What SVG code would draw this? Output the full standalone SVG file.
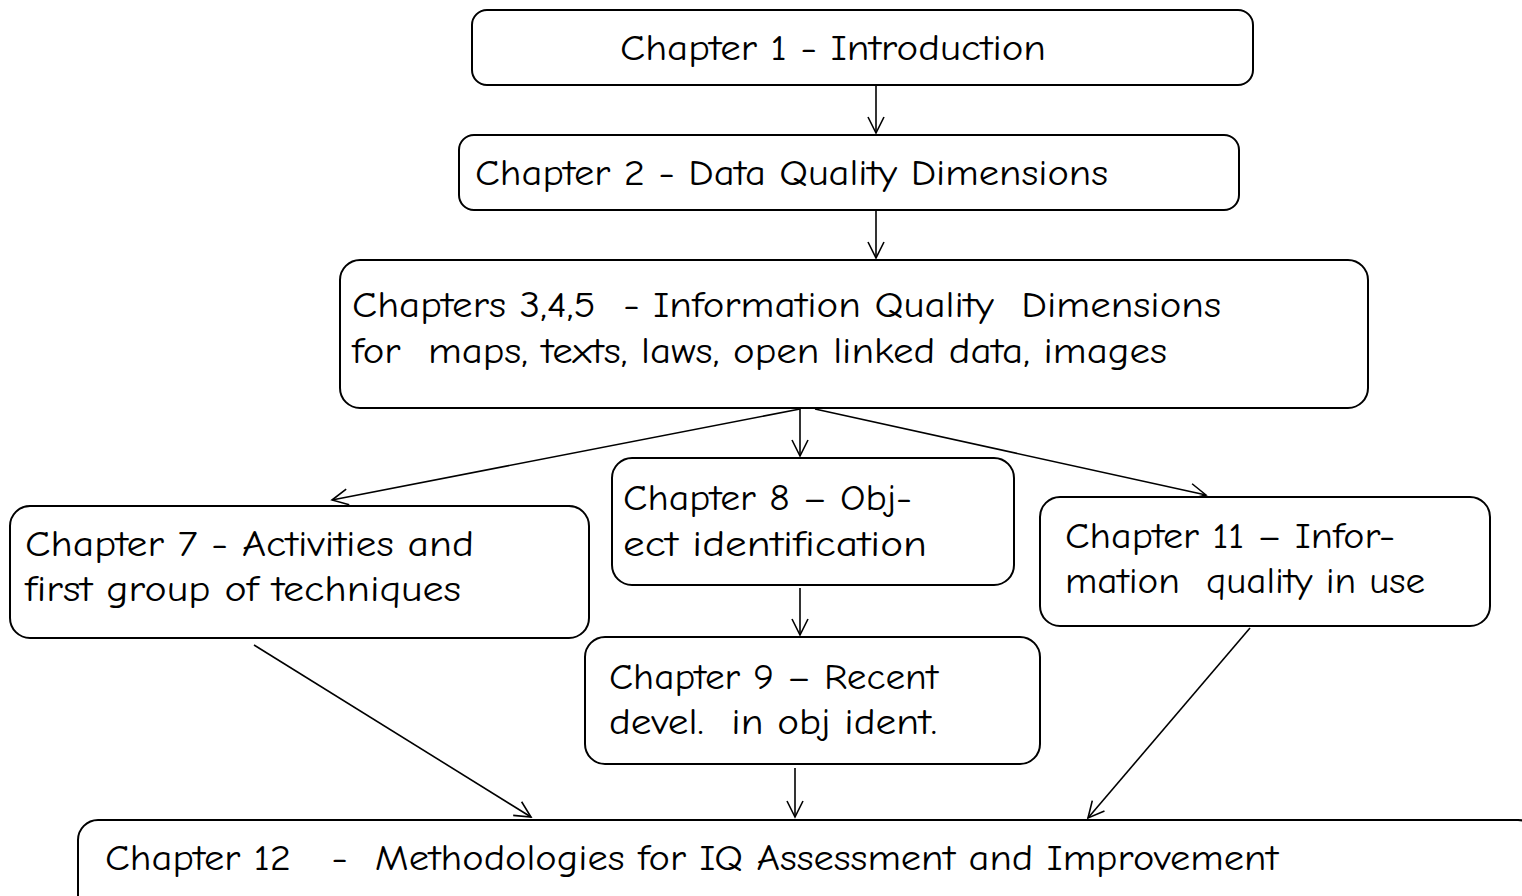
<svg xmlns="http://www.w3.org/2000/svg" width="1522" height="896" viewBox="0 0 1522 896">
<defs>
<style>
.box{fill:#fff;stroke:#000;stroke-width:2}
.t{font-family:"Comic Sans MS","Comic Neue","Liberation Sans","DejaVu Sans",sans-serif;font-size:37px;fill:#000}
.c{stroke:#000;stroke-width:1.6;fill:none}
</style>
<marker id="a" viewBox="0 0 20 20" refX="18" refY="10" markerWidth="20" markerHeight="20" markerUnits="userSpaceOnUse" orient="auto">
<path d="M2,2 L18,10 L2,18" fill="none" stroke="#000" stroke-width="1.6"/>
</marker>
</defs>
<rect width="1522" height="896" fill="#fff"/>
<g id="connectors">
<line class="c" x1="876" y1="86" x2="876" y2="133" marker-end="url(#a)"/>
<line class="c" x1="876" y1="211" x2="876" y2="258" marker-end="url(#a)"/>
<line class="c" x1="800" y1="409" x2="332" y2="500" marker-end="url(#a)"/>
<line class="c" x1="800" y1="409" x2="800" y2="456" marker-end="url(#a)"/>
<line class="c" x1="815" y1="409" x2="1206" y2="495" marker-end="url(#a)"/>
<line class="c" x1="800" y1="588" x2="800" y2="635" marker-end="url(#a)"/>
<line class="c" x1="795" y1="768" x2="795" y2="817" marker-end="url(#a)"/>
<line class="c" x1="254" y1="645" x2="531" y2="817" marker-end="url(#a)"/>
<line class="c" x1="1250" y1="628" x2="1088" y2="818" marker-end="url(#a)"/>
</g>
<g id="ch1">
<rect class="box" x="472" y="10" width="781" height="75" rx="15"/>
<text class="t" x="620" y="60" textLength="426" lengthAdjust="spacingAndGlyphs">Chapter 1 - Introduction</text>
</g>
<g id="ch2">
<rect class="box" x="459" y="135" width="780" height="75" rx="15"/>
<text class="t" x="475" y="185" textLength="633" lengthAdjust="spacingAndGlyphs">Chapter 2 - Data Quality Dimensions</text>
</g>
<g id="ch345">
<rect class="box" x="340" y="260" width="1028" height="148" rx="20"/>
<text class="t" x="352" y="317" textLength="869" lengthAdjust="spacingAndGlyphs" xml:space="preserve">Chapters 3,4,5  - Information Quality  Dimensions</text>
<text class="t" x="352" y="363" textLength="815" lengthAdjust="spacingAndGlyphs" xml:space="preserve">for  maps, texts, laws, open linked data, images</text>
</g>
<g id="ch7">
<rect class="box" x="10" y="506" width="579" height="132" rx="20"/>
<text class="t" x="25" y="556" textLength="449" lengthAdjust="spacingAndGlyphs">Chapter 7 - Activities and</text>
<text class="t" x="25" y="601" textLength="436" lengthAdjust="spacingAndGlyphs">first group of techniques</text>
</g>
<g id="ch8">
<rect class="box" x="612" y="458" width="402" height="127" rx="20"/>
<text class="t" x="623" y="510" textLength="289" lengthAdjust="spacingAndGlyphs">Chapter 8 – Obj-</text>
<text class="t" x="623" y="556" textLength="304" lengthAdjust="spacingAndGlyphs">ect identification</text>
</g>
<g id="ch11">
<rect class="box" x="1040" y="497" width="450" height="129" rx="20"/>
<text class="t" x="1065" y="548" textLength="330" lengthAdjust="spacingAndGlyphs">Chapter 11 – Infor-</text>
<text class="t" x="1065" y="593" textLength="360" lengthAdjust="spacingAndGlyphs" xml:space="preserve">mation  quality in use</text>
</g>
<g id="ch9">
<rect class="box" x="585" y="637" width="455" height="127" rx="20"/>
<text class="t" x="609" y="689" textLength="329" lengthAdjust="spacingAndGlyphs">Chapter 9 – Recent</text>
<text class="t" x="609" y="734" textLength="328" lengthAdjust="spacingAndGlyphs" xml:space="preserve">devel.  in obj ident.</text>
</g>
<g id="ch12">
<rect class="box" x="78" y="820" width="1460" height="100" rx="20"/>
<text class="t" x="105" y="870" textLength="1173" lengthAdjust="spacingAndGlyphs" xml:space="preserve">Chapter 12   -  Methodologies for IQ Assessment and Improvement</text>
</g>
</svg>
